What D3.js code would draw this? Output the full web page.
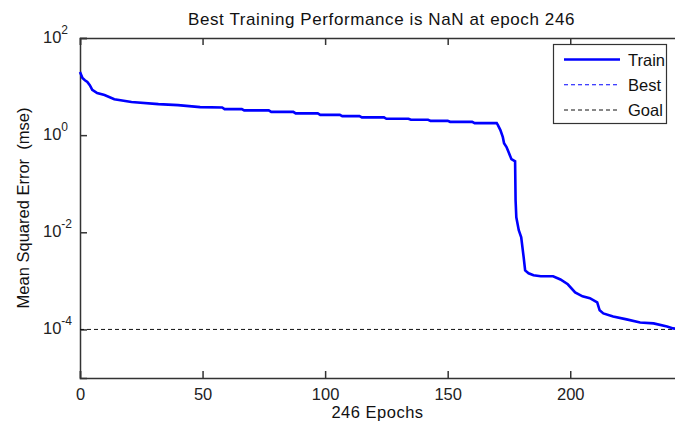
<!DOCTYPE html>
<html>
<head>
<meta charset="utf-8">
<script src="https://cdn.jsdelivr.net/npm/d3@7/dist/d3.min.js"></script>
<style>
  html, body { margin: 0; padding: 0; background: #fff; }
  svg { display: block; font-family: "Liberation Sans", Arial, Helvetica, sans-serif; }
</style>
</head>
<body>
<svg id="chart" width="675" height="425"></svg>
<script>
// ---- data ----
const epochs = [0, 1, 2, 3, 4, 5, 7, 10, 14, 21, 32, 40, 49, 58, 59, 66, 67, 77, 78, 87, 88, 97, 98, 106, 107, 114, 115, 124, 125, 134, 135, 142, 143, 150, 151, 160, 161, 170, 170.5, 171.5, 172.5, 173, 174, 175, 176, 177.5, 177.7, 178, 179, 180, 181, 181.6, 183, 185, 188, 193, 196, 199, 202, 205, 208, 211, 212, 213.5, 217.5, 223, 228.5, 234, 239.5, 242, 246];
const trainMSE = [19.9, 15.0, 13.5, 12.5, 10.7, 8.6, 7.35, 6.7, 5.5, 4.8, 4.35, 4.15, 3.78, 3.72, 3.44, 3.44, 3.23, 3.23, 3.02, 3.02, 2.80, 2.80, 2.62, 2.62, 2.46, 2.46, 2.32, 2.32, 2.17, 2.17, 2.07, 2.07, 1.97, 1.97, 1.88, 1.88, 1.77, 1.77, 1.61, 1.27, 0.91, 0.68, 0.57, 0.43, 0.32, 0.29, 0.0457, 0.0204, 0.011, 0.0079, 0.00305, 0.00164, 0.00143, 0.0013, 0.00124, 0.00124, 0.00107, 0.00085, 0.00058, 0.00048, 0.00044, 0.00036, 0.000247, 0.000214, 0.000185, 0.000161, 0.000139, 0.000133, 0.000115, 0.000105, 0.0001];
const goalValue = 1e-4;
const xTicks = [0, 50, 100, 150, 200];
const yTickExponents = [2, 0, -2, -4];
const legendLabels = ["Train", "Best", "Goal"];
const titleText = "Best Training Performance is NaN at epoch 246";
const xLabelText = "246 Epochs";
const yLabelText = "Mean Squared Error  (mse)";

// ---- layout ----
const svg = d3.select("#chart");
const plotLeft = 80, plotRight = 683, plotTop = 38, plotBottom = 378;
const x = d3.scaleLinear().domain([0, 246]).range([plotLeft, plotRight]);
const y = d3.scaleLog().domain([1e-5, 1e2]).range([plotBottom, plotTop]);
const axisColor = "#333";
const fontSize = 16.5;

// bottom axis
const xAxis = d3.axisBottom(x).tickValues(xTicks).tickSize(-7).tickPadding(10).tickFormat(d3.format("d"));
const gx = svg.append("g").attr("transform", `translate(0,${plotBottom})`).call(xAxis);
gx.selectAll("text").attr("font-size", fontSize).attr("fill", "#222").attr("font-family", "Liberation Sans, Arial, sans-serif");
// top axis (mirror ticks)
const gxt = svg.append("g").attr("transform", `translate(0,${plotTop})`).call(d3.axisTop(x).tickValues(xTicks).tickSize(-7).tickFormat(""));
// left axis
const yTickVals = yTickExponents.map(e => Math.pow(10, e));
const gy = svg.append("g").attr("transform", `translate(${plotLeft},0)`).call(d3.axisLeft(y).tickValues(yTickVals).tickSize(-7).tickFormat(""));

[gx, gxt, gy].forEach(g => {
  g.selectAll("path.domain").attr("stroke", axisColor).attr("stroke-width", 1.5);
  g.selectAll(".tick line").attr("stroke", axisColor).attr("stroke-width", 1.5);
});

// y tick labels with superscripts
yTickExponents.forEach(e => {
  const yy = y(Math.pow(10, e));
  const t = svg.append("text").attr("x", 43).attr("y", yy + 5)
    .attr("font-size", fontSize).attr("fill", "#222");
  t.append("tspan").text("10");
  t.append("tspan").attr("font-size", 12).attr("dy", -9).text(String(e));
});

// goal line
svg.append("line")
  .attr("x1", x(0)).attr("x2", x(246))
  .attr("y1", y(goalValue)).attr("y2", y(goalValue))
  .attr("stroke", "#111").attr("stroke-width", 1).attr("stroke-dasharray", "4,3");

// train line
const line = d3.line().x((d, i) => x(epochs[i])).y(d => y(d));
svg.append("path").datum(trainMSE)
  .attr("d", line)
  .attr("fill", "none").attr("stroke", "#0000ff").attr("stroke-width", 2.6)
  .attr("stroke-linejoin", "miter");

// title
svg.append("text").attr("x", (plotLeft + plotRight) / 2).attr("y", 25)
  .attr("text-anchor", "middle").attr("font-size", 17).attr("letter-spacing", 0.6)
  .attr("fill", "#111").text(titleText);

// x label
svg.append("text").attr("x", (plotLeft + plotRight) / 2 - 4).attr("y", 418)
  .attr("text-anchor", "middle").attr("font-size", fontSize).attr("letter-spacing", 0.5)
  .attr("fill", "#111").text(xLabelText);

// y label
svg.append("text").attr("transform", `translate(29,${(plotTop + plotBottom) / 2}) rotate(-90)`)
  .attr("text-anchor", "middle").attr("font-size", fontSize).attr("fill", "#111")
  .style("white-space", "pre").text(yLabelText);

// legend
const lg = svg.append("g");
lg.append("rect").attr("x", 553.5).attr("y", 44.5).attr("width", 113).attr("height", 79)
  .attr("fill", "#fff").attr("stroke", axisColor).attr("stroke-width", 1.2);
const legendStyles = [
  {color: "#0000ff", width: 2.6, dash: null},
  {color: "#0000ff", width: 1, dash: "4,3"},
  {color: "#111", width: 1, dash: "4,3"}
];
const legendY = d3.scalePoint().domain(legendLabels).range([59.5, 110]);
legendLabels.forEach((lab, i) => {
  const yy = legendY(lab);
  const st = legendStyles[i];
  const ln = lg.append("line").attr("x1", 564).attr("x2", 620).attr("y1", yy).attr("y2", yy)
    .attr("stroke", st.color).attr("stroke-width", st.width);
  if (st.dash) ln.attr("stroke-dasharray", st.dash);
  lg.append("text").attr("x", 628).attr("y", yy + 6).attr("text-anchor", "start")
    .attr("font-size", fontSize).attr("fill", "#111").text(lab);
});
</script>
</body>
</html>
